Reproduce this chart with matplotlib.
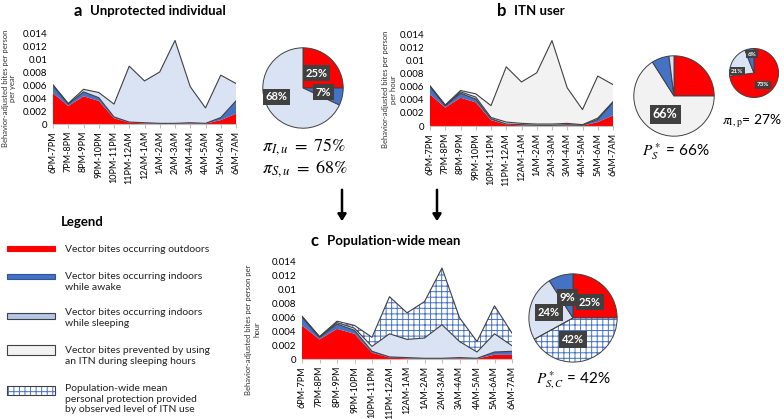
import matplotlib
matplotlib.use('Agg')
import matplotlib.pyplot as plt
from matplotlib.patches import Rectangle, Wedge, FancyArrowPatch
import numpy as np

plt.rcParams['font.family'] = ['Lato', 'DejaVu Sans']
plt.rcParams['mathtext.fontset'] = 'stix'
plt.rcParams['hatch.linewidth'] = 0.7

# hourly categories
hours = ['6PM-7PM', '7PM-8PM', '8PM-9PM', '9PM-10PM', '10PM-11PM', '11PM-12AM',
         '12AM-1AM', '1AM-2AM', '2AM-3AM', '3AM-4AM', '4AM-5AM', '5AM-6AM', '6AM-7AM']

# panel a - unprotected individual
outdoor = [0.0048, 0.0028, 0.0043, 0.0036, 0.0009, 0.0002, 0.0001, 0.00005, 0.00005, 0.0001, 0.00005, 0.0006, 0.0016]
indoor_awake = [0.0012, 0.0003, 0.0007, 0.0005, 0.0002, 0.0001, 0.0001, 0.00005, 0.00005, 0.0001, 0.00005, 0.0004, 0.0020]
indoor_sleep = [0.0001, 0.0001, 0.0004, 0.0008, 0.0020, 0.0087, 0.0065, 0.0080, 0.0129, 0.0056, 0.0024, 0.0066, 0.0027]

# panel b - ITN user
itn_sleep = [0.0001, 0.00005, 0.0002, 0.0003, 0.0002, 0.0003, 0.0002, 0.0002, 0.0002, 0.0002, 0.0001, 0.0002, 0.0001]
itn_prevented = [0.0, 0.00005, 0.0002, 0.0005, 0.0018, 0.0084, 0.0063, 0.0078, 0.0127, 0.0054, 0.0023, 0.0064, 0.0026]

# panel c - population-wide mean
pop_outdoor = [0.0048, 0.0028, 0.0043, 0.0036, 0.0009, 0.0002, 0.0001, 0.00005, 0.00005, 0.0001, 0.00005, 0.0006, 0.0006]
pop_awake = [0.0012, 0.0003, 0.0007, 0.0005, 0.0002, 0.0001, 0.0001, 0.00005, 0.00005, 0.0001, 0.00005, 0.0004, 0.0005]
pop_sleep = [0.0001, 0.00005, 0.0002, 0.0003, 0.0007, 0.0033, 0.0026, 0.0029, 0.0048, 0.0023, 0.0009, 0.0026, 0.0008]
pop_protected = [0.0, 0.00005, 0.0002, 0.0004, 0.0013, 0.0053, 0.0038, 0.0052, 0.0081, 0.0034, 0.0015, 0.0040, 0.0018]

# pie shares (%)
pie_a = [25, 7, 68]
pie_b = [25, 66, 7, 2]
pie_b_small = [73, 21, 6]
pie_c = [25, 42, 24, 9]

RED = '#ff0000'
BLUE = '#4472c4'
LBLUE = '#dae3f3'
GREY = '#f2f2f2'
EDGE = '#404040'

W, H = 784, 419
fig = plt.figure(figsize=(W / 100, H / 100), dpi=100)


def rect(left, top, right, bottom):
    return [left / W, 1 - bottom / H, (right - left) / W, (bottom - top) / H]


def area_chart(pos, layers, ylabel, label_xy):
    ax = fig.add_axes(rect(*pos))
    x = np.arange(len(hours))
    base = np.zeros(len(hours))
    for vals, color, hatch, edged in layers:
        top = base + np.array(vals)
        if hatch:
            ax.fill_between(x, base, top, facecolor='white', edgecolor=BLUE,
                            hatch=hatch, linewidth=0)
        else:
            ax.fill_between(x, base, top, facecolor=color, linewidth=0)
        if edged:
            ax.plot(x, top, color=EDGE, lw=0.8)
        base = top
    ax.set_xlim(0, len(hours) - 1)
    ax.set_ylim(0, 0.014)
    ticks = np.arange(0, 0.0141, 0.002)
    ax.set_yticks(ticks)
    ax.set_yticklabels([f'{v:g}' for v in ticks], fontsize=7)
    ax.set_xticks(x)
    ax.set_xticklabels(hours, rotation=90, fontsize=6.5)
    for s in ['top', 'right', 'left']:
        ax.spines[s].set_visible(False)
    ax.spines['bottom'].set_color('#bfbfbf')
    ax.tick_params(axis='y', length=0, pad=4)
    ax.tick_params(axis='x', length=3, color='#bfbfbf', pad=2)
    ax.set_ylabel(ylabel, fontsize=5.5, color='#333333', linespacing=1.1)
    ax.yaxis.set_label_coords(*label_xy)
    return ax


area_chart((53, 34, 236, 124),
           [(outdoor, RED, None, False), (indoor_awake, BLUE, None, True),
            (indoor_sleep, LBLUE, None, True)],
           'Behavior-adjusted bites per person\nper year', (-0.2, 0.4))
area_chart((430, 34, 613, 126),
           [(outdoor, RED, None, False), (indoor_awake, BLUE, None, True),
            (itn_sleep, LBLUE, None, True), (itn_prevented, GREY, None, True)],
           'Behavior-adjusted bites per person\nper hour', (-0.18, 0.4))
area_chart((302, 261, 512, 359),
           [(pop_outdoor, RED, None, False), (pop_awake, BLUE, None, True),
            (pop_sleep, LBLUE, None, True), (pop_protected, None, '+++', True)],
           'Behavior-adjusted bites per person per\nhour', (-0.2, 0.3))


def pie(cx, cy, r, vals, colors, hatches, labels, label_xy, fs):
    ax = fig.add_axes(rect(cx - r, cy - r, cx + r, cy + r))
    wedges, _ = ax.pie(vals, colors=colors, startangle=90, counterclock=False,
                       wedgeprops=dict(edgecolor=EDGE, linewidth=0.7))
    for w, h in zip(wedges, hatches):
        if h:
            w.set_facecolor('white')
            w.set_hatch(h)
            w.set_edgecolor(BLUE)
            w.set_linewidth(0)
            # outline drawn separately so the hatch stays blue
            ax.add_patch(Wedge(w.center, w.r, w.theta1, w.theta2,
                               facecolor='none', edgecolor=EDGE, lw=0.7))
    for lab, (lx, ly) in zip(labels, label_xy):
        if lab:
            ax.text(lx, ly, lab, ha='center', va='center', fontsize=fs, color='white',
                    fontweight='bold',
                    bbox=dict(boxstyle='square,pad=0.25', fc='#404040', ec='none'))
    ax.set_xlim(-1.02, 1.02)
    ax.set_ylim(-1.02, 1.02)
    ax.axis('off')
    return ax


pie(303, 88, 41, pie_a, [RED, BLUE, LBLUE], [None] * 3,
    ['25%', '7%', '68%'], [(0.34, 0.37), (0.51, -0.1), (-0.66, -0.22)], 8)
pie(674, 96, 41, pie_b, [RED, GREY, BLUE, LBLUE], [None] * 4,
    [None, '66%', None, None], [(0, 0), (-0.22, -0.46), (0, 0), (0, 0)], 9)
pie(754, 73, 25, pie_b_small, [RED, LBLUE, BLUE], [None] * 3,
    ['73%', '21%', '6%'], [(0.36, -0.48), (-0.68, 0.08), (-0.08, 0.76)], 4.5)
pie(573, 318, 45, pie_c, [RED, 'white', LBLUE, BLUE], [None, '+++', None, None],
    ['25%', '42%', '24%', '9%'], [(0.38, 0.36), (0.0, -0.49), (-0.55, 0.13), (-0.13, 0.47)], 8)


# titles
def title(x, y, letter, text):
    fig.text(x / W, 1 - y / H, letter + '  ', fontsize=12, fontweight='bold',
             ha='right', va='center')
    fig.text(x / W, 1 - y / H, text, fontsize=9.5, fontweight='bold', ha='left', va='center')


title(90, 11, 'a', 'Unprotected individual')
title(514, 11, 'b', 'ITN user')
title(327, 241, 'c', 'Population-wide mean')

# formula annotations
fig.text(262 / W, 1 - 147 / H, r'$\pi_{I,u}\ =\ 75\%$', fontsize=13, va='center')
fig.text(262 / W, 1 - 169 / H, r'$\pi_{S,u}\ =\ 68\%$', fontsize=13, va='center')
fig.text(676 / W, 1 - 152 / H, r'$P_S^*$' + ' = 66%', fontsize=11, ha='center', va='center')
fig.text(752 / W, 1 - 121 / H, r'$\pi_{\mathrm{I,p}}$' + '= 27%', fontsize=10, ha='center', va='center')
fig.text(573 / W, 1 - 380 / H, r'$P_{S,C}^*$' + ' = 42%', fontsize=11, ha='center', va='center')

# arrows
for arrow_x in [342, 437]:
    fig.add_artist(FancyArrowPatch(
        (arrow_x / W, 1 - 187 / H), (arrow_x / W, 1 - 224 / H), transform=fig.transFigure,
        arrowstyle='-|>,head_length=4,head_width=2.5', lw=1.8, color='black'))

# legend
fig.text(82 / W, 1 - 222 / H, 'Legend', fontsize=9.5, fontweight='bold', ha='center', va='center')
legend_items = [
    ('Vector bites occurring outdoors', 249, RED, RED, 246, 251, None),
    ('Vector bites occurring indoors\nwhile awake', 282, BLUE, '#2f5597', 274, 279, None),
    ('Vector bites occurring indoors\nwhile sleeping', 318, '#b4c7e7', EDGE, 313, 319, None),
    ('Vector bites prevented by using\nan ITN during sleeping hours', 356, GREY, EDGE, 345, 355, None),
    ('Population-wide mean\npersonal protection provided\nby observed level of ITN use', 399, 'white', EDGE, 386, 395, '+++'),
]
for text, ty, fc, ec, y0, y1, hatch in legend_items:
    if hatch:
        fig.add_artist(Rectangle((7 / W, 1 - y1 / H), 48 / W, (y1 - y0) / H, transform=fig.transFigure,
                                 facecolor='white', edgecolor=BLUE, hatch=hatch, lw=0))
        fig.add_artist(Rectangle((7 / W, 1 - y1 / H), 48 / W, (y1 - y0) / H, transform=fig.transFigure,
                                 facecolor='none', edgecolor=ec, lw=0.8))
    else:
        fig.add_artist(Rectangle((7 / W, 1 - y1 / H), 48 / W, (y1 - y0) / H, transform=fig.transFigure,
                                 facecolor=fc, edgecolor=ec, lw=0.8))
    fig.text(65 / W, 1 - ty / H, text, fontsize=7.5, va='center', ha='left',
             linespacing=1.25, color='#222222')

plt.savefig('out.png', dpi=100)
